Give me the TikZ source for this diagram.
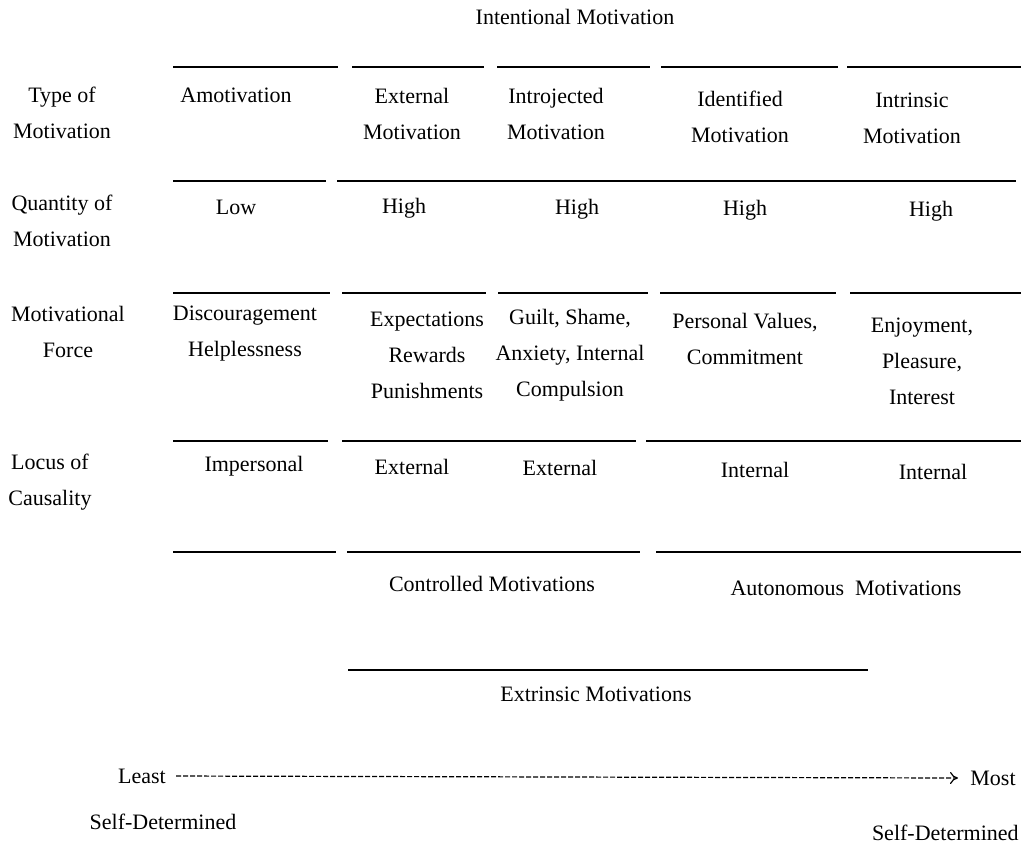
\documentclass[tikz,border=0pt]{standalone}
\usepackage{fontspec}
\setmainfont{Liberation Serif}
\usetikzlibrary{arrows.meta}

\begin{document}
\begin{tikzpicture}[x=0.5pt,y=-0.5pt,
    cell/.style={align=center,inner sep=0pt,font=\fontsize{11}{18}\selectfont},
    rule/.style={line width=0.8pt}]
            \useasboundingbox (0,0) rectangle (1021,848);
            % heading
            \node[cell] (intent) at (575,17) {Intentional Motivation};
            % horizontal rules
            \foreach \a/\b in {173/338,352/484,497/650,661/838,847/1021}
                \draw[rule] (\a,67) -- (\b,67);
            \foreach \a/\b in {173/326,337/1016}
                \draw[rule] (\a,181) -- (\b,181);
            \foreach \a/\b in {173/330,342/486,498/648,660/836,850/1021}
                \draw[rule] (\a,293) -- (\b,293);
            \foreach \a/\b in {173/328,342/636,646/1021}
                \draw[rule] (\a,441) -- (\b,441);
            \foreach \a/\b in {173/336,347/640,656/1021}
                \draw[rule] (\a,552) -- (\b,552);
            \draw[rule] (348,670) -- (868,670);
            % type of motivation
            \node[cell] (typeL) at (62,113) {Type of\\Motivation};
            \node[cell] (amot) at (236,95) {Amotivation};
            \node[cell] (extM) at (412,114) {External\\Motivation};
            \node[cell] (intro) at (556,114) {Introjected\\Motivation};
            \node[cell] (ident) at (740,117) {Identified\\Motivation};
            \node[cell] (intrin) at (912,118) {Intrinsic\\Motivation};
            % quantity
            \node[cell] (quantL) at (62,221) {Quantity of\\Motivation};
            \node[cell] (low) at (236,207) {Low};
            \foreach \x/\y/\n in {404/208/1,577/209/2,745/210/3,931/211/4}
                \node[cell] (high\n) at (\x,\y) {High};
            % motivational force
            \node[cell] (forceL) at (68,332) {Motivational\\Force};
            \node[cell] (disc) at (245,334) {Discouragement\\Helplessness};
            \node[cell] (expect) at (427,355) {Expectations\\Rewards\\Punishments};
            \node[cell] (guilt) at (570,355) {Guilt, Shame,\\Anxiety, Internal\\Compulsion};
            \node[cell] (values) at (745,339) {Personal Values,\\Commitment};
            \node[cell] (enjoy) at (922,361) {Enjoyment,\\Pleasure,\\Interest};
            % locus of causality
            \node[cell] (locusL) at (50,482) {Locus of\\Causality};
            \node[cell] (imp) at (254,466) {Impersonal};
            \node[cell] (ext1) at (412,467) {External};
            \node[cell] (ext2) at (560,468) {External};
            \node[cell] (int1) at (755,470) {Internal};
            \node[cell] (int2) at (933,472) {Internal};
            % groupings
            \node[cell] (ctrl) at (492,584) {Controlled Motivations};
            \node[cell] (auto) at (846,588) {Autonomous\ \ Motivations};
            \node[cell] (extr) at (596,694) {Extrinsic Motivations};
            % self-determination scale
            \node[cell] (least) at (142,776) {Least};
            \node[cell,anchor=west] (most) at (970,778) {Most};
            \node[cell] (selfL) at (163,822) {Self-Determined};
            \node[cell,anchor=east] (selfR) at (1019,833) {Self-Determined};
            \draw[line width=0.6pt,dash pattern=on 2.5pt off 1pt,-{>[length=4pt,width=6pt]}] (least.east)++(10,0) -- ([xshift=-6pt]most.west);
        \end{tikzpicture}
\end{document}
